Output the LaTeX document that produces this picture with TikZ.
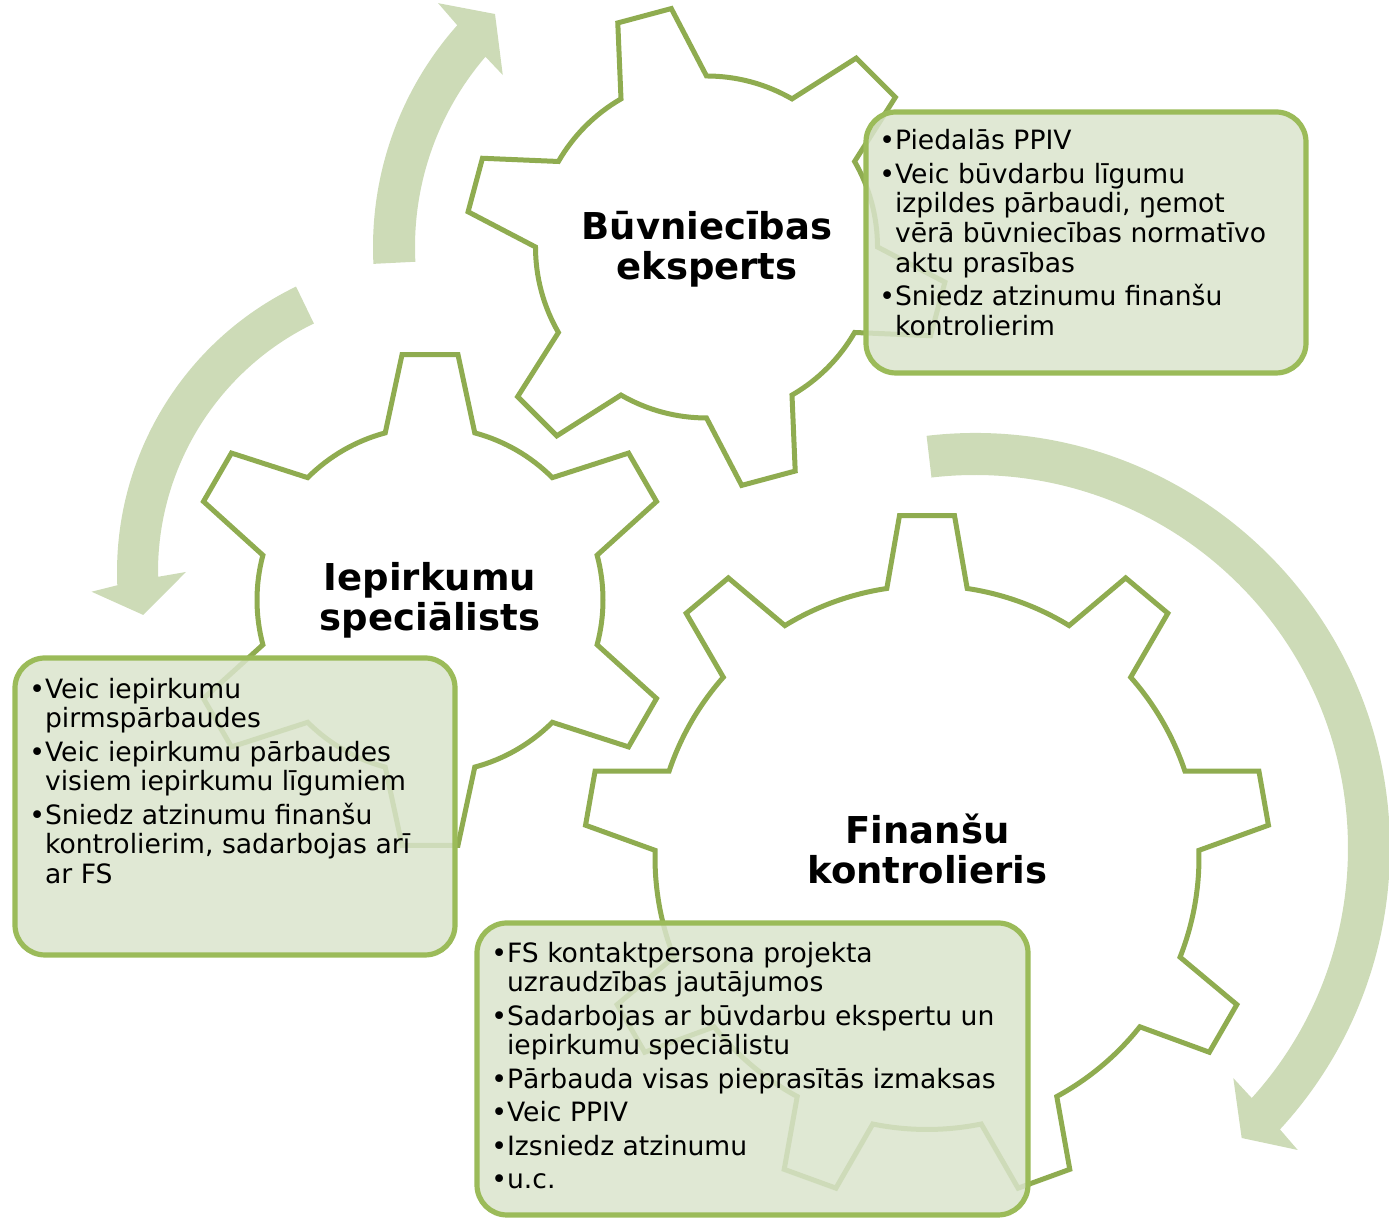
\documentclass[tikz,border=0pt]{standalone}
\usepackage{fontspec}
\setmainfont{DejaVu Sans}

\definecolor{gearline}{HTML}{8FAC50}
\definecolor{boxline}{HTML}{9BBB59}
\definecolor{boxfill}{HTML}{DAE4CC}
\definecolor{arrowfill}{HTML}{CDDBB7}

\newlength\bulw
\newcommand\itm[1]{\settowidth{\bulw}{•}\hangindent\bulw\hangafter1
  \noindent•{\let\\\newline #1}\par\vspace{1.9pt}}

\begin{document}
\begin{tikzpicture}[x=0.5pt,y=0.5pt,
    gear/.style={draw=gearline,line width=2.5pt,fill=white},
    band/.style={fill=arrowfill},
    infobox/.style={draw=boxline,line width=2.6pt,fill=boxfill,fill opacity=0.85,
      rounded corners=15pt,anchor=north west,inner sep=0pt,outer sep=0pt},
    infotext/.style={anchor=base west,inner sep=0pt,
      font=\fontsize{13.3pt}{14.8pt}\selectfont},
    title/.style={anchor=base,inner sep=0pt,
      font=\fontsize{18.5pt}{20pt}\selectfont\bfseries}]

        \useasboundingbox (0,0) rectangle (1389,1219);

        \begin{scope}[band]
          \fill[shift={(707,972)}] (182.9:334) arc[start angle=182.9,end angle=138.4,radius=334]
            -- (137.8:363) -- (132.3:315) -- (139.9:267) -- (139.35:292)
            arc[start angle=139.35,end angle=182.9,radius=292] -- cycle;
          \fill[shift={(434,647)}] (115.8:317) arc[start angle=115.8,end angle=182.4,radius=317]
            -- (183.3:343) -- (188.4:294) -- (180:248) -- (181:276)
            arc[start angle=181,end angle=115.8,radius=276] -- cycle;
          \fill[shift={(975,371)}] (96.7:415) arc[start angle=96.7,end angle=-42.7,radius=415]
            -- (-43.1:442) -- (-47.4:394) -- (-41.7:346) -- (-42.1:373)
            arc[start angle=-42.1,end angle=96.7,radius=373] -- cycle;
        \end{scope}

        \draw[gear,shift={(927,361.5)}] (81.5:272)
          \foreach \a in {90,130,...,410}
            {-- (\a-4.6:343) -- (\a+4.6:343) -- (\a+8.5:272)
             arc[start angle=\a+8.5,end angle=\a+31.5,radius=272]} -- cycle;
        \draw[gear,shift={(706.5,972)}] (30:171)
          \foreach \a in {45,105,...,345}
            {-- (\a-6.6:241) -- (\a+6.6:241) -- (\a+15:171)
             arc[start angle=\a+15,end angle=\a+45,radius=171]} -- cycle;
        \draw[gear,shift={(430,619)}] (15:173)
          \foreach \a in {30,90,...,330}
            {-- (\a-6.5:247) -- (\a+6.5:247) -- (\a+15:173)
             arc[start angle=\a+15,end angle=\a+45,radius=173]} -- cycle;

        \node[title] (buvtitle) at (707,979.7)
          {\parbox[t]{300pt}{\centering Būvniecības\\eksperts}};
        \node[title] (ieptitle) at (430,628.3)
          {\parbox[t]{300pt}{\centering Iepirkumu\\speciālists}};
        \node[title] (fintitle) at (927.5,375)
          {\parbox[t]{300pt}{\centering Finanšu\\kontrolieris}};

        \node[infobox,minimum width=220pt,minimum height=130.5pt] (buvbox) at (866,1107) {};
        \node[infobox,minimum width=220pt,minimum height=148.5pt] (iepbox) at (15,561) {};
        \node[infobox,minimum width=275.5pt,minimum height=146pt] (finbox) at (477,296) {};

        \node[infotext] (buvtext) at (879,1069) {\parbox[t]{300pt}{\raggedright
          \itm{Piedalās PPIV}
          \itm{Veic būvdarbu līgumu\\izpildes pārbaudi, ŋemot\\vērā būvniecības normatīvo\\aktu prasības}
          \itm{Sniedz atzinumu finanšu\\kontrolierim}}};
        \node[infotext] (ieptext) at (29,520.7) {\parbox[t]{300pt}{\raggedright
          \itm{Veic iepirkumu\\pirmspārbaudes}
          \itm{Veic iepirkumu pārbaudes\\visiem iepirkumu līgumiem}
          \itm{Sniedz atzinumu finanšu\\kontrolierim, sadarbojas arī\\ar FS}}};
        \node[infotext] (fintext) at (491,256.7) {\parbox[t]{300pt}{\raggedright
          \itm{FS kontaktpersona projekta\\uzraudzības jautājumos}
          \itm{Sadarbojas ar būvdarbu ekspertu un\\iepirkumu speciālistu}
          \itm{Pārbauda visas pieprasītās izmaksas}
          \itm{Veic PPIV}
          \itm{Izsniedz atzinumu}
          \itm{u.c.}}};

      \end{tikzpicture}
\end{document}
